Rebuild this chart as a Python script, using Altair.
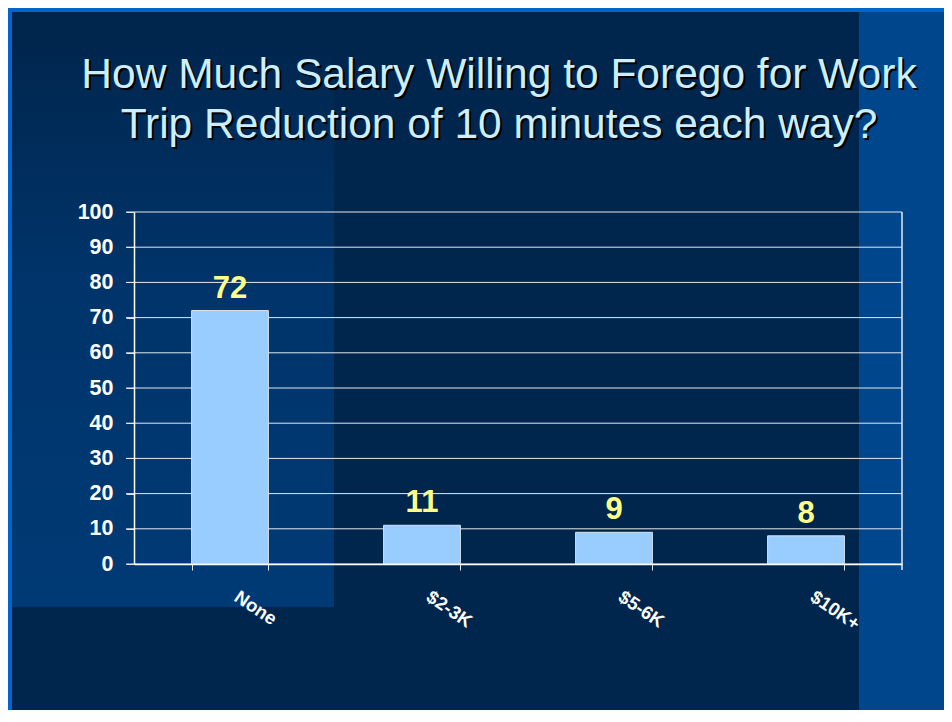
import altair as alt
import pandas as pd

# ---- data ----
categories = ["None", "$2-3K", "$5-6K", "$10K+"]
values = [72, 11, 9, 8]
grid_values = [0, 10, 20, 30, 40, 50, 60, 70, 80, 90, 100]
title_lines = ["How Much Salary Willing to Forego for Work",
               "Trip Reduction of 10 minutes each way?"]

FONT = "Liberation Sans, Arial, sans-serif"
W, H = 768, 352

bars_df = pd.DataFrame({"cat": categories, "val": values})
grid_df = pd.DataFrame({"v": grid_values})
one = pd.DataFrame({"a": [0]})

xscale = alt.Scale(domain=categories, paddingInner=0.6, paddingOuter=0.3)
yscale = alt.Scale(domain=[0, 100], nice=False)

x_axis = alt.Axis(labelAngle=34, labelAlign="left", labelBaseline="top",
                  labelOffset=11, labelPadding=17, labelFont=FONT,
                  labelFontSize=18.5, labelFontWeight="bold", labelColor="white",
                  tickBand="extent", tickSize=6, tickColor="#e4e8ee",
                  domainColor="white", domainWidth=1.5, grid=False, zindex=1,
                  title=None)
y_axis = alt.Axis(values=grid_values, labelFont=FONT, labelFontSize=21.5,
                  labelFontWeight="bold", labelColor="white", labelPadding=13,
                  tickSize=8, tickColor="#e4e8ee", domainColor="white",
                  domainWidth=1.5, grid=False, zindex=1, title=None)

# background decorations
bg_dark = alt.Chart(one).mark_rect(color="#00264e").encode(
    x=alt.value(-122), x2=alt.value(820), y=alt.value(-200), y2=alt.value(510))
left_block = alt.Chart(one).mark_rect(
    fill=alt.Gradient(gradient="linear", x1=0, x2=0, y1=0, y2=1,
                      stops=[alt.GradientStop(color="#00264e", offset=0.05),
                             alt.GradientStop(color="#00346a", offset=0.45),
                             alt.GradientStop(color="#003a75", offset=1)])).encode(
    x=alt.value(-122), x2=alt.value(200), y=alt.value(-200), y2=alt.value(395))
right_strip = alt.Chart(one).mark_rect(color="#00468c").encode(
    x=alt.value(725), x2=alt.value(820), y=alt.value(-200), y2=alt.value(510))

grid = alt.Chart(grid_df).mark_rule(color="#e4e8ee", strokeWidth=1).encode(
    y=alt.Y("v:Q", scale=yscale, axis=y_axis),
    x=alt.value(-8), x2=alt.value(W))
right_border = alt.Chart(one).mark_rule(color="#e4e8ee", strokeWidth=1.5).encode(
    x=alt.value(W), y=alt.value(0), y2=alt.value(H + 6))

bars = alt.Chart(bars_df).mark_bar(color="#99ccff", stroke="#d8e4f0", strokeWidth=1).encode(
    x=alt.X("cat:N", scale=xscale, sort=categories, axis=x_axis),
    y=alt.Y("val:Q", scale=yscale, axis=y_axis))

labels = alt.Chart(bars_df).mark_text(
    font=FONT, fontSize=31, fontWeight="bold", color="#ffff88",
    baseline="alphabetic", dy=-13).encode(
    x=alt.X("cat:N", scale=xscale, sort=categories, axis=x_axis),
    y=alt.Y("val:Q", scale=yscale, axis=y_axis),
    text=alt.Text("val:Q"))

title_layers = []
for i, line in enumerate(title_lines):
    ty = -124 + 50 * i
    title_layers.append(alt.Chart(one).mark_text(
        font=FONT, fontSize=42.5, color="#000000", align="center",
        baseline="alphabetic").encode(
        x=alt.value(365 + 2), y=alt.value(ty + 2), text=alt.value(line)))
    title_layers.append(alt.Chart(one).mark_text(
        font=FONT, fontSize=42.5, color="#cceeff", align="center",
        baseline="alphabetic").encode(
        x=alt.value(365), y=alt.value(ty), text=alt.value(line)))

chart = alt.layer(bg_dark, left_block, right_strip, grid, right_border,
                  bars, labels, *title_layers).properties(
    width=W, height=H,
    autosize=alt.AutoSizeParams(type="none"),
    padding={"left": 126, "top": 204, "right": 42, "bottom": 146},
    background="#0066cc",
).configure_view(stroke=None)

chart.save("out.html", embed_options={"renderer": "svg", "actions": False})
